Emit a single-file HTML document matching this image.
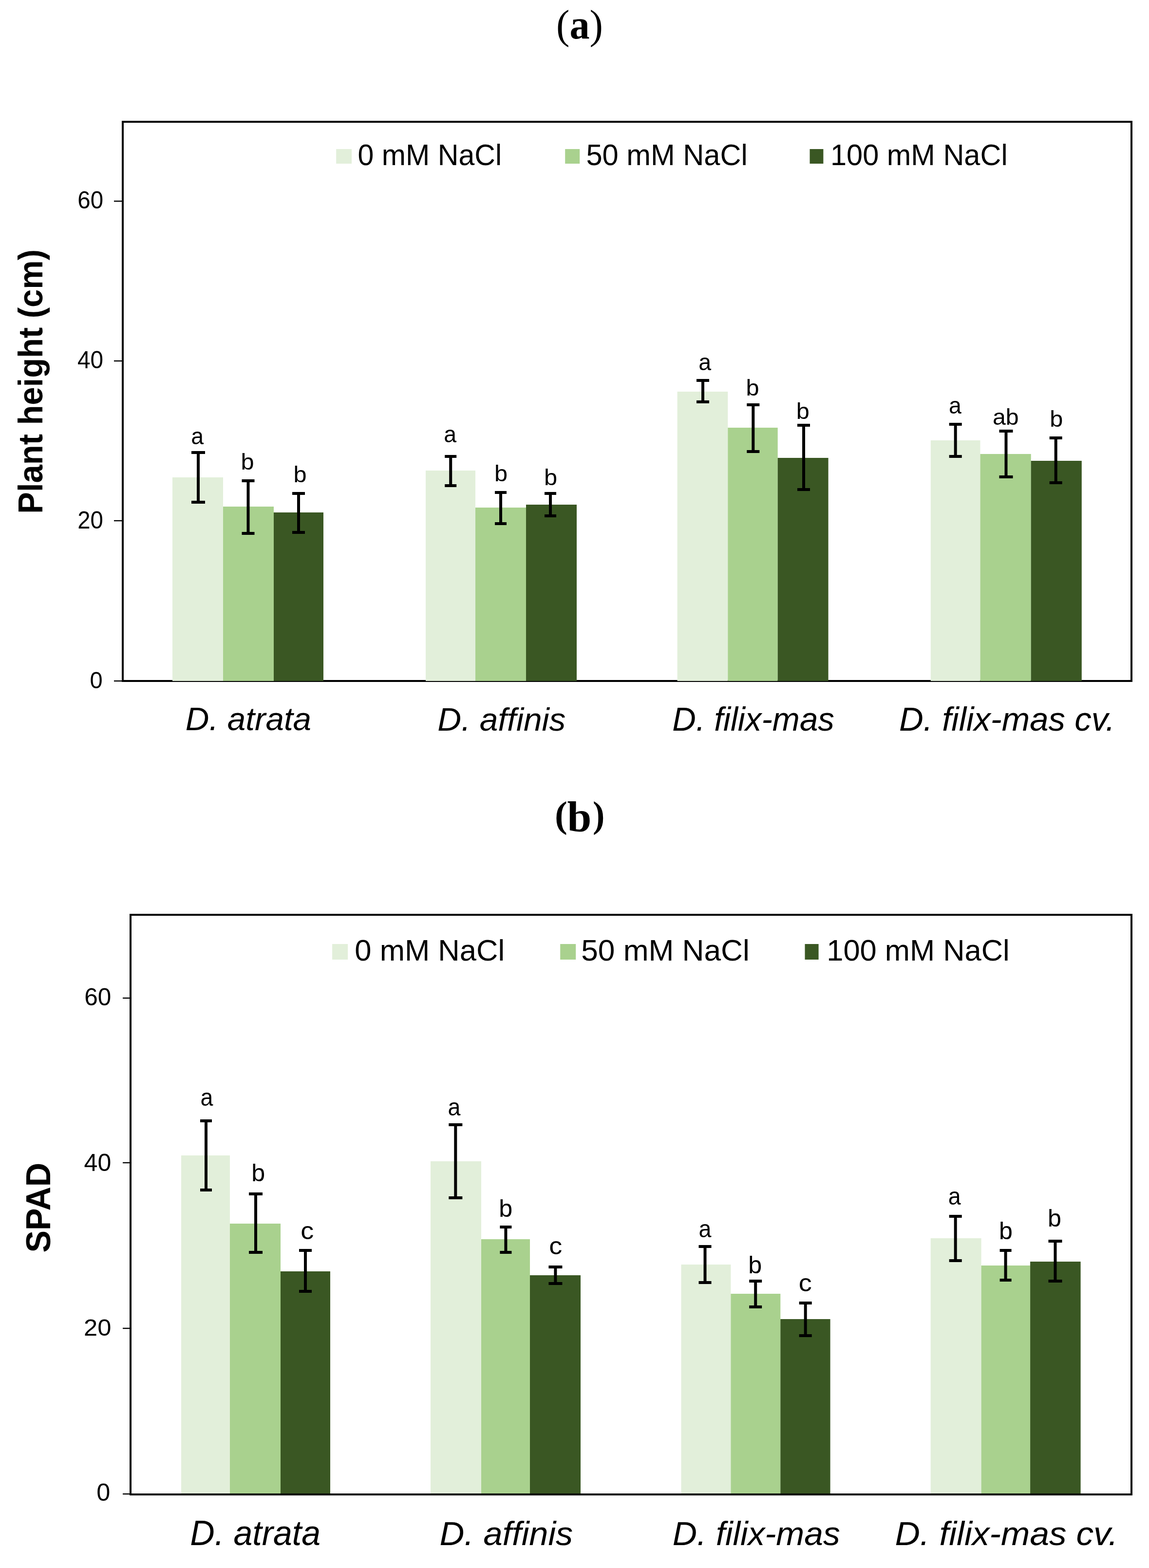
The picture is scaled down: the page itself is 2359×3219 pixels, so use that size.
<!DOCTYPE html>
<html><head><meta charset="utf-8"><title>Figure</title>
<style>
html,body{margin:0;padding:0;background:#fff;}
body{width:2359px;height:3219px;overflow:hidden;}
svg{display:block;}
text{font-variant-ligatures:none;font-kerning:normal;}
</style></head>
<body>
<svg width="2359" height="3219" viewBox="0 0 2359 3219">
<rect x="0" y="0" width="2359" height="3219" fill="#fff"/>
<rect x="252.0" y="250.0" width="2071" height="1148" fill="none" stroke="#000" stroke-width="4"/>
<rect x="354.0" y="980.0" width="104.0" height="418.0" fill="#e2efda"/>
<rect x="458.0" y="1040.0" width="104.0" height="358.0" fill="#a9d18e"/>
<rect x="562.0" y="1052.0" width="102.0" height="346.0" fill="#3a5723"/>
<rect x="874.0" y="966.0" width="102.0" height="432.0" fill="#e2efda"/>
<rect x="976.0" y="1042.0" width="104.0" height="356.0" fill="#a9d18e"/>
<rect x="1080.0" y="1036.0" width="104.0" height="362.0" fill="#3a5723"/>
<rect x="1390.6" y="804.0" width="103.7" height="594.0" fill="#e2efda"/>
<rect x="1494.3" y="878.0" width="102.4" height="520.0" fill="#a9d18e"/>
<rect x="1596.7" y="940.0" width="103.9" height="458.0" fill="#3a5723"/>
<rect x="1910.8" y="904.0" width="101.7" height="494.0" fill="#e2efda"/>
<rect x="2012.5" y="932.0" width="104.2" height="466.0" fill="#a9d18e"/>
<rect x="2116.7" y="946.0" width="104.1" height="452.0" fill="#3a5723"/>
<rect x="404.0" y="926.0" width="6.0" height="108.0" fill="#000"/>
<rect x="393.0" y="926.0" width="28.0" height="6.0" fill="#000"/>
<rect x="393.0" y="1028.0" width="28.0" height="6.0" fill="#000"/>
<rect x="506.5" y="984.0" width="6.0" height="114.0" fill="#000"/>
<rect x="496.5" y="984.0" width="26.0" height="6.0" fill="#000"/>
<rect x="496.5" y="1092.0" width="26.0" height="6.0" fill="#000"/>
<rect x="610.0" y="1010.0" width="6.0" height="86.0" fill="#000"/>
<rect x="600.0" y="1010.0" width="26.0" height="6.0" fill="#000"/>
<rect x="600.0" y="1090.0" width="26.0" height="6.0" fill="#000"/>
<rect x="922.2" y="934.0" width="6.0" height="66.0" fill="#000"/>
<rect x="913.2" y="934.0" width="24.0" height="6.0" fill="#000"/>
<rect x="913.2" y="994.0" width="24.0" height="6.0" fill="#000"/>
<rect x="1025.0" y="1008.0" width="6.0" height="70.0" fill="#000"/>
<rect x="1016.0" y="1008.0" width="24.0" height="6.0" fill="#000"/>
<rect x="1016.0" y="1072.0" width="24.0" height="6.0" fill="#000"/>
<rect x="1127.0" y="1010.0" width="6.0" height="52.0" fill="#000"/>
<rect x="1118.0" y="1010.0" width="24.0" height="6.0" fill="#000"/>
<rect x="1118.0" y="1056.0" width="24.0" height="6.0" fill="#000"/>
<rect x="1440.0" y="778.0" width="6.0" height="50.0" fill="#000"/>
<rect x="1430.0" y="778.0" width="26.0" height="6.0" fill="#000"/>
<rect x="1430.0" y="822.0" width="26.0" height="6.0" fill="#000"/>
<rect x="1543.3" y="828.0" width="6.0" height="102.0" fill="#000"/>
<rect x="1533.3" y="828.0" width="26.0" height="6.0" fill="#000"/>
<rect x="1533.3" y="924.0" width="26.0" height="6.0" fill="#000"/>
<rect x="1647.0" y="870.0" width="6.0" height="138.0" fill="#000"/>
<rect x="1637.0" y="870.0" width="26.0" height="6.0" fill="#000"/>
<rect x="1637.0" y="1002.0" width="26.0" height="6.0" fill="#000"/>
<rect x="1958.7" y="868.0" width="6.0" height="72.0" fill="#000"/>
<rect x="1948.7" y="868.0" width="26.0" height="6.0" fill="#000"/>
<rect x="1948.7" y="934.0" width="26.0" height="6.0" fill="#000"/>
<rect x="2062.5" y="882.0" width="6.0" height="100.0" fill="#000"/>
<rect x="2051.5" y="882.0" width="28.0" height="6.0" fill="#000"/>
<rect x="2051.5" y="976.0" width="28.0" height="6.0" fill="#000"/>
<rect x="2164.7" y="896.0" width="6.0" height="98.0" fill="#000"/>
<rect x="2154.7" y="896.0" width="26.0" height="6.0" fill="#000"/>
<rect x="2154.7" y="988.0" width="26.0" height="6.0" fill="#000"/>
<rect x="234.0" y="411.8" width="16.0" height="2.4" fill="#000"/>
<g transform="matrix(1.00833 0 0 1.04688 -0.742 -20.562)"><text x="211.0" y="428.0" font-size="47" text-anchor="end" font-weight="normal" font-style="normal" font-family="'Liberation Sans', Arial, sans-serif">60</text></g>
<rect x="234.0" y="739.8" width="16.0" height="2.4" fill="#000"/>
<g transform="matrix(1.01429 0 0 1.05312 -2.086 -40.262)"><text x="211.0" y="756.0" font-size="47" text-anchor="end" font-weight="normal" font-style="normal" font-family="'Liberation Sans', Arial, sans-serif">40</text></g>
<rect x="234.0" y="1067.8" width="16.0" height="2.4" fill="#000"/>
<g transform="matrix(1.00625 0 0 1.06250 -0.406 -66.750)"><text x="211.0" y="1084.0" font-size="47" text-anchor="end" font-weight="normal" font-style="normal" font-family="'Liberation Sans', Arial, sans-serif">20</text></g>
<rect x="234.0" y="1396.8" width="16.0" height="2.4" fill="#000"/>
<g transform="matrix(1.00000 0 0 1.03125 -0.400 -44.156)"><text x="211.0" y="1413.0" font-size="47" text-anchor="end" font-weight="normal" font-style="normal" font-family="'Liberation Sans', Arial, sans-serif">0</text></g>
<rect x="690.2" y="306.0" width="31.8" height="30.0" fill="#e2efda"/>
<g transform="matrix(0.98537 0 0 1.01163 11.265 -4.253)"><text x="734.0" y="339.5" font-size="60" text-anchor="start" font-weight="normal" font-style="normal" font-family="'Liberation Sans', Arial, sans-serif">0 mM NaCl</text></g>
<rect x="1160.2" y="306.0" width="30.0" height="30.0" fill="#a9d18e"/>
<g transform="matrix(0.99417 0 0 1.01163 7.429 -4.253)"><text x="1203.0" y="339.5" font-size="60" text-anchor="start" font-weight="normal" font-style="normal" font-family="'Liberation Sans', Arial, sans-serif">50 mM NaCl</text></g>
<rect x="1662.5" y="306.0" width="27.9" height="30.0" fill="#3a5723"/>
<g transform="matrix(0.99134 0 0 1.01395 15.799 -4.944)"><text x="1704.0" y="339.5" font-size="60" text-anchor="start" font-weight="normal" font-style="normal" font-family="'Liberation Sans', Arial, sans-serif">100 mM NaCl</text></g>
<g transform="matrix(0.96768 0 0 1.01635 12.306 -14.795)"><text x="406.1" y="912.0" font-size="48" text-anchor="middle" font-weight="normal" font-style="normal" font-family="'Liberation Sans', Arial, sans-serif">a</text></g>
<g transform="matrix(1.01477 0 0 0.97224 -8.015 27.020)"><text x="508.5" y="964.0" font-size="48" text-anchor="middle" font-weight="normal" font-style="normal" font-family="'Liberation Sans', Arial, sans-serif">b</text></g>
<g transform="matrix(1.01477 0 0 0.97224 -9.867 27.492)"><text x="616.8" y="990.0" font-size="48" text-anchor="middle" font-weight="normal" font-style="normal" font-family="'Liberation Sans', Arial, sans-serif">b</text></g>
<g transform="matrix(0.96768 0 0 1.01635 28.797 -14.880)"><text x="925.3" y="908.2" font-size="48" text-anchor="middle" font-weight="normal" font-style="normal" font-family="'Liberation Sans', Arial, sans-serif">a</text></g>
<g transform="matrix(1.01477 0 0 0.97224 -15.701 26.864)"><text x="1029.0" y="988.8" font-size="48" text-anchor="middle" font-weight="normal" font-style="normal" font-family="'Liberation Sans', Arial, sans-serif">b</text></g>
<g transform="matrix(1.01477 0 0 0.97224 -17.207 26.936)"><text x="1131.0" y="996.6" font-size="48" text-anchor="middle" font-weight="normal" font-style="normal" font-family="'Liberation Sans', Arial, sans-serif">b</text></g>
<g transform="matrix(0.96768 0 0 1.01635 45.703 -12.411)"><text x="1448.3" y="760.0" font-size="48" text-anchor="middle" font-weight="normal" font-style="normal" font-family="'Liberation Sans', Arial, sans-serif">a</text></g>
<g transform="matrix(1.01477 0 0 0.97224 -23.069 22.751)"><text x="1545.2" y="812.0" font-size="48" text-anchor="middle" font-weight="normal" font-style="normal" font-family="'Liberation Sans', Arial, sans-serif">b</text></g>
<g transform="matrix(1.01477 0 0 0.97224 -24.698 24.184)"><text x="1648.7" y="860.1" font-size="48" text-anchor="middle" font-weight="normal" font-style="normal" font-family="'Liberation Sans', Arial, sans-serif">b</text></g>
<g transform="matrix(0.96768 0 0 1.01635 62.584 -14.082)"><text x="1961.7" y="849.7" font-size="48" text-anchor="middle" font-weight="normal" font-style="normal" font-family="'Liberation Sans', Arial, sans-serif">a</text></g>
<g transform="matrix(1.00612 0 0 0.96000 -12.490 34.980)"><text x="2064.7" y="872.1" font-size="48" text-anchor="middle" font-weight="normal" font-style="normal" font-family="'Liberation Sans', Arial, sans-serif">ab</text></g>
<g transform="matrix(1.01477 0 0 0.97224 -32.383 24.428)"><text x="2169.2" y="876.1" font-size="48" text-anchor="middle" font-weight="normal" font-style="normal" font-family="'Liberation Sans', Arial, sans-serif">b</text></g>
<g transform="matrix(1.02088 0 0 1.01087 -10.440 -16.293)"><text x="509.7" y="1499.0" font-size="66" text-anchor="middle" font-weight="normal" font-style="italic" font-family="'Liberation Sans', Arial, sans-serif">D. atrata</text></g>
<g transform="matrix(1.02490 0 0 1.01667 -26.011 -24.683)"><text x="1030.2" y="1499.3" font-size="66" text-anchor="middle" font-weight="normal" font-style="italic" font-family="'Liberation Sans', Arial, sans-serif">D. affinis</text></g>
<g transform="matrix(1.01950 0 0 1.03125 -30.633 -46.544)"><text x="1547.1" y="1499.3" font-size="66" text-anchor="middle" font-weight="normal" font-style="italic" font-family="'Liberation Sans', Arial, sans-serif">D. filix-mas</text></g>
<g transform="matrix(1.04552 0 0 1.02708 -90.841 -40.298)"><text x="2064.5" y="1499.3" font-size="66" text-anchor="middle" font-weight="normal" font-style="italic" font-family="'Liberation Sans', Arial, sans-serif">D. filix-mas cv.</text></g>
<g transform="matrix(1.04839 0 0 0.99869 -2.290 1.374)"><text transform="translate(85.3,783) rotate(-90)" font-size="67" text-anchor="middle" font-weight="bold" font-style="normal" font-family="'Liberation Sans', Arial, sans-serif">Plant height (cm)</text></g>
<g transform="matrix(0.95652 0 0 0.98718 51.739 1.244)"><text x="1190.0" y="79.0" font-size="86" text-anchor="middle" font-weight="bold" font-style="normal" font-family="'Liberation Serif', 'Times New Roman', serif"><tspan font-weight="normal">(</tspan>a<tspan font-weight="normal">)</tspan></text></g>
<rect x="268.0" y="1878.0" width="2055" height="1190" fill="none" stroke="#000" stroke-width="4"/>
<rect x="372.0" y="2372.0" width="100.0" height="694.0" fill="#e2efda"/>
<rect x="472.0" y="2512.0" width="104.0" height="554.0" fill="#a9d18e"/>
<rect x="576.0" y="2610.0" width="102.0" height="456.0" fill="#3a5723"/>
<rect x="884.0" y="2384.0" width="104.0" height="682.0" fill="#e2efda"/>
<rect x="988.0" y="2544.0" width="100.0" height="522.0" fill="#a9d18e"/>
<rect x="1088.0" y="2618.0" width="104.0" height="448.0" fill="#3a5723"/>
<rect x="1398.5" y="2596.0" width="101.9" height="470.0" fill="#e2efda"/>
<rect x="1500.4" y="2656.0" width="101.9" height="410.0" fill="#a9d18e"/>
<rect x="1602.3" y="2708.0" width="102.3" height="358.0" fill="#3a5723"/>
<rect x="1910.7" y="2542.0" width="103.9" height="524.0" fill="#e2efda"/>
<rect x="2014.6" y="2598.0" width="100.5" height="468.0" fill="#a9d18e"/>
<rect x="2115.1" y="2590.0" width="103.5" height="476.0" fill="#3a5723"/>
<rect x="420.0" y="2298.0" width="6.0" height="148.0" fill="#000"/>
<rect x="411.0" y="2298.0" width="24.0" height="6.0" fill="#000"/>
<rect x="411.0" y="2440.0" width="24.0" height="6.0" fill="#000"/>
<rect x="522.0" y="2448.0" width="6.0" height="126.0" fill="#000"/>
<rect x="511.0" y="2448.0" width="28.0" height="6.0" fill="#000"/>
<rect x="511.0" y="2568.0" width="28.0" height="6.0" fill="#000"/>
<rect x="624.0" y="2564.0" width="6.0" height="90.0" fill="#000"/>
<rect x="614.0" y="2564.0" width="26.0" height="6.0" fill="#000"/>
<rect x="614.0" y="2648.0" width="26.0" height="6.0" fill="#000"/>
<rect x="932.3" y="2306.0" width="6.0" height="156.0" fill="#000"/>
<rect x="921.3" y="2306.0" width="28.0" height="6.0" fill="#000"/>
<rect x="921.3" y="2456.0" width="28.0" height="6.0" fill="#000"/>
<rect x="1035.4" y="2516.0" width="6.0" height="58.0" fill="#000"/>
<rect x="1026.4" y="2516.0" width="24.0" height="6.0" fill="#000"/>
<rect x="1026.4" y="2568.0" width="24.0" height="6.0" fill="#000"/>
<rect x="1137.4" y="2598.0" width="6.0" height="40.0" fill="#000"/>
<rect x="1126.4" y="2598.0" width="28.0" height="6.0" fill="#000"/>
<rect x="1126.4" y="2632.0" width="28.0" height="6.0" fill="#000"/>
<rect x="1444.5" y="2556.0" width="6.0" height="80.0" fill="#000"/>
<rect x="1434.5" y="2556.0" width="26.0" height="6.0" fill="#000"/>
<rect x="1434.5" y="2630.0" width="26.0" height="6.0" fill="#000"/>
<rect x="1548.2" y="2627.0" width="6.0" height="59.0" fill="#000"/>
<rect x="1538.2" y="2627.0" width="26.0" height="6.0" fill="#000"/>
<rect x="1538.2" y="2680.0" width="26.0" height="6.0" fill="#000"/>
<rect x="1650.7" y="2672.0" width="6.0" height="73.0" fill="#000"/>
<rect x="1640.7" y="2672.0" width="26.0" height="6.0" fill="#000"/>
<rect x="1640.7" y="2739.0" width="26.0" height="6.0" fill="#000"/>
<rect x="1958.7" y="2494.0" width="6.0" height="97.0" fill="#000"/>
<rect x="1948.7" y="2494.0" width="26.0" height="6.0" fill="#000"/>
<rect x="1948.7" y="2585.0" width="26.0" height="6.0" fill="#000"/>
<rect x="2061.6" y="2564.0" width="6.0" height="67.0" fill="#000"/>
<rect x="2052.6" y="2564.0" width="24.0" height="6.0" fill="#000"/>
<rect x="2052.6" y="2625.0" width="24.0" height="6.0" fill="#000"/>
<rect x="2163.5" y="2545.0" width="6.0" height="88.0" fill="#000"/>
<rect x="2152.5" y="2545.0" width="28.0" height="6.0" fill="#000"/>
<rect x="2152.5" y="2627.0" width="28.0" height="6.0" fill="#000"/>
<rect x="252.0" y="2047.8" width="14.0" height="2.4" fill="#000"/>
<g transform="matrix(0.99020 0 0 1.01143 3.506 -23.989)"><text x="227.0" y="2064.0" font-size="50" text-anchor="end" font-weight="normal" font-style="normal" font-family="'Liberation Sans', Arial, sans-serif">60</text></g>
<rect x="252.0" y="2385.8" width="14.0" height="2.4" fill="#000"/>
<g transform="matrix(1.00192 0 0 1.01143 0.867 -25.851)"><text x="227.0" y="2402.0" font-size="50" text-anchor="end" font-weight="normal" font-style="normal" font-family="'Liberation Sans', Arial, sans-serif">40</text></g>
<rect x="252.0" y="2725.8" width="14.0" height="2.4" fill="#000"/>
<g transform="matrix(1.01373 0 0 0.95714 -1.788 117.214)"><text x="227.0" y="2742.0" font-size="50" text-anchor="end" font-weight="normal" font-style="normal" font-family="'Liberation Sans', Arial, sans-serif">20</text></g>
<rect x="252.0" y="3065.8" width="14.0" height="2.4" fill="#000"/>
<g transform="matrix(1.00833 0 0 1.00286 -2.675 -9.406)"><text x="227.0" y="3082.0" font-size="50" text-anchor="end" font-weight="normal" font-style="normal" font-family="'Liberation Sans', Arial, sans-serif">0</text></g>
<rect x="682.1" y="1938.0" width="32.0" height="32.0" fill="#e2efda"/>
<g transform="matrix(0.99309 0 0 0.98864 6.336 22.109)"><text x="727.0" y="1972.0" font-size="62" text-anchor="start" font-weight="normal" font-style="normal" font-family="'Liberation Sans', Arial, sans-serif">0 mM NaCl</text></g>
<rect x="1150.2" y="1938.0" width="32.0" height="32.0" fill="#a9d18e"/>
<g transform="matrix(1.00356 0 0 0.98864 -5.062 22.109)"><text x="1194.0" y="1972.0" font-size="62" text-anchor="start" font-weight="normal" font-style="normal" font-family="'Liberation Sans', Arial, sans-serif">50 mM NaCl</text></g>
<rect x="1652.5" y="1938.0" width="28.1" height="32.0" fill="#3a5723"/>
<g transform="matrix(0.99081 0 0 0.98864 16.831 22.109)"><text x="1696.0" y="1972.0" font-size="62" text-anchor="start" font-weight="normal" font-style="normal" font-family="'Liberation Sans', Arial, sans-serif">100 mM NaCl</text></g>
<g transform="matrix(0.93235 0 0 1.00833 28.068 -18.254)"><text x="425.2" y="2269.8" font-size="50" text-anchor="middle" font-weight="normal" font-style="normal" font-family="'Liberation Sans', Arial, sans-serif">a</text></g>
<g transform="matrix(1.00455 0 0 0.99556 -2.764 10.602)"><text x="530.6" y="2425.6" font-size="50" text-anchor="middle" font-weight="normal" font-style="normal" font-family="'Liberation Sans', Arial, sans-serif">b</text></g>
<g transform="matrix(1.08254 0 0 1.00494 -52.474 -12.046)"><text x="631.2" y="2543.7" font-size="50" text-anchor="middle" font-weight="normal" font-style="normal" font-family="'Liberation Sans', Arial, sans-serif">c</text></g>
<g transform="matrix(0.93235 0 0 1.00833 62.216 -19.471)"><text x="933.5" y="2290.0" font-size="50" text-anchor="middle" font-weight="normal" font-style="normal" font-family="'Liberation Sans', Arial, sans-serif">a</text></g>
<g transform="matrix(1.00455 0 0 0.99556 -5.123 11.322)"><text x="1038.6" y="2498.2" font-size="50" text-anchor="middle" font-weight="normal" font-style="normal" font-family="'Liberation Sans', Arial, sans-serif">b</text></g>
<g transform="matrix(1.08254 0 0 1.00494 -94.569 -13.204)"><text x="1141.2" y="2575.7" font-size="50" text-anchor="middle" font-weight="normal" font-style="normal" font-family="'Liberation Sans', Arial, sans-serif">c</text></g>
<g transform="matrix(0.93235 0 0 1.00833 97.004 -21.354)"><text x="1448.5" y="2539.9" font-size="50" text-anchor="middle" font-weight="normal" font-style="normal" font-family="'Liberation Sans', Arial, sans-serif">a</text></g>
<g transform="matrix(1.00455 0 0 0.99556 -7.955 11.638)"><text x="1551.1" y="2613.9" font-size="50" text-anchor="middle" font-weight="normal" font-style="normal" font-family="'Liberation Sans', Arial, sans-serif">b</text></g>
<g transform="matrix(1.08254 0 0 1.00494 -136.579 -13.730)"><text x="1653.4" y="2652.0" font-size="50" text-anchor="middle" font-weight="normal" font-style="normal" font-family="'Liberation Sans', Arial, sans-serif">c</text></g>
<g transform="matrix(0.93235 0 0 1.00833 131.474 -21.304)"><text x="1960.8" y="2473.7" font-size="50" text-anchor="middle" font-weight="normal" font-style="normal" font-family="'Liberation Sans', Arial, sans-serif">a</text></g>
<g transform="matrix(1.00455 0 0 0.99556 -9.891 11.227)"><text x="2065.5" y="2544.0" font-size="50" text-anchor="middle" font-weight="normal" font-style="normal" font-family="'Liberation Sans', Arial, sans-serif">b</text></g>
<g transform="matrix(1.00455 0 0 0.99556 -10.345 11.211)"><text x="2165.5" y="2518.3" font-size="50" text-anchor="middle" font-weight="normal" font-style="normal" font-family="'Liberation Sans', Arial, sans-serif">b</text></g>
<g transform="matrix(1.02734 0 0 1.05745 -14.228 -182.221)"><text x="524.1" y="3172.0" font-size="68" text-anchor="middle" font-weight="normal" font-style="italic" font-family="'Liberation Sans', Arial, sans-serif">D. atrata</text></g>
<g transform="matrix(1.03538 0 0 1.01000 -37.100 -32.230)"><text x="1039.7" y="3172.5" font-size="68" text-anchor="middle" font-weight="normal" font-style="italic" font-family="'Liberation Sans', Arial, sans-serif">D. affinis</text></g>
<g transform="matrix(1.02349 0 0 1.01000 -36.586 -32.230)"><text x="1552.9" y="3172.5" font-size="68" text-anchor="middle" font-weight="normal" font-style="italic" font-family="'Liberation Sans', Arial, sans-serif">D. filix-mas</text></g>
<g transform="matrix(1.04801 0 0 1.01000 -95.525 -32.230)"><text x="2062.8" y="3172.5" font-size="68" text-anchor="middle" font-weight="normal" font-style="italic" font-family="'Liberation Sans', Arial, sans-serif">D. filix-mas cv.</text></g>
<g transform="matrix(1.01020 0 0 0.97554 -1.361 59.927)"><text transform="translate(103.7,2480) rotate(-90)" font-size="70" text-anchor="middle" font-weight="bold" font-style="normal" font-family="'Liberation Sans', Arial, sans-serif">SPAD</text></g>
<g transform="matrix(0.99500 0 0 0.97857 5.810 29.379)"><text x="1152.0" y="1705.0" font-size="78" text-anchor="middle" font-weight="bold" font-style="normal" font-family="'Liberation Serif', 'Times New Roman', serif">(</text></g>
<g transform="matrix(1.14872 0 0 1.14444 -175.703 -244.678)"><text x="1188.4" y="1705.0" font-size="78" text-anchor="middle" font-weight="bold" font-style="normal" font-family="'Liberation Serif', 'Times New Roman', serif">b</text></g>
<g transform="matrix(0.94000 0 0 0.97857 74.280 29.379)"><text x="1228.6" y="1705.0" font-size="78" text-anchor="middle" font-weight="bold" font-style="normal" font-family="'Liberation Serif', 'Times New Roman', serif">)</text></g>
</svg>
</body></html>
